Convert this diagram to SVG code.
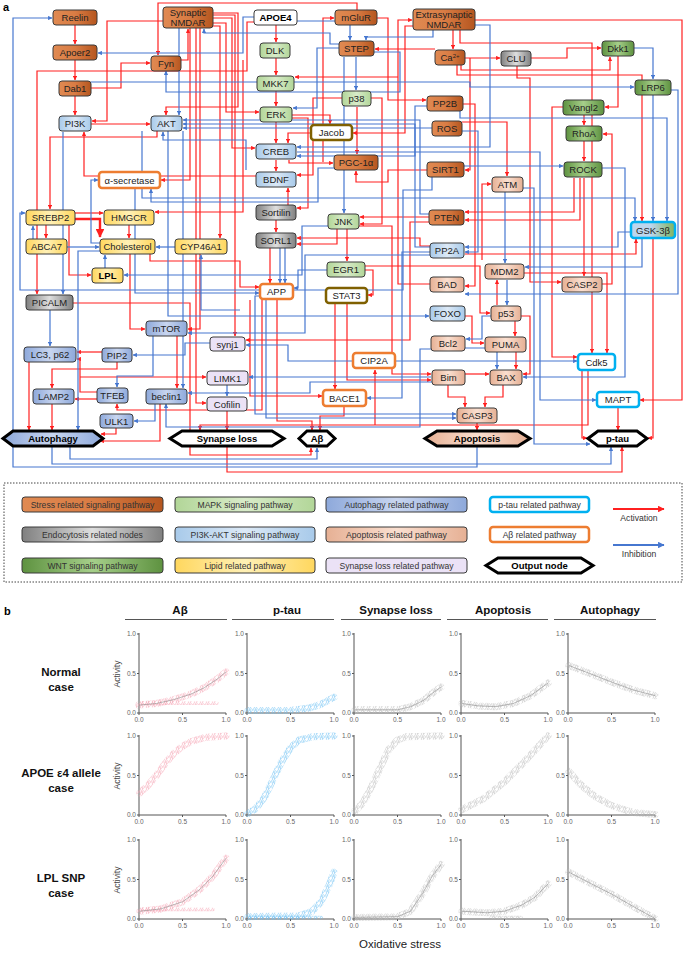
<svg xmlns="http://www.w3.org/2000/svg" width="685" height="953" viewBox="0 0 685 953">
<defs>
<style>
.r{fill:none;stroke:#ff2020;stroke-width:1.2;marker-end:url(#ar)}
.rt{fill:none;stroke:#ff2020;stroke-width:2.4;marker-end:url(#ar)}
.b{fill:none;stroke:#4677d0;stroke-width:1.2;marker-end:url(#ab)}
.nd{stroke:#3a3a3a;stroke-width:1}
.sS{fill:url(#gS)}.sM{fill:url(#gM)}.sW{fill:url(#gW)}.sA{fill:url(#gA)}.sP{fill:url(#gP)}.sE{fill:url(#gE)}.sL{fill:url(#gL)}.sAp{fill:url(#gAp)}.sSy{fill:#ebe2f6}
.pt{fill:#fff;stroke:#00b0f0;stroke-width:2.5}
.ab{fill:#fff;stroke:#ed7d31;stroke-width:2.5}
.ol{fill:#fff;stroke:#7f6000;stroke-width:2.5}
.hx{stroke:#000;stroke-width:3;stroke-linejoin:miter}
.t{font-family:"Liberation Sans",Arial,sans-serif;font-size:9.5px;text-anchor:middle;fill:#222}
.tb{font-family:"Liberation Sans",Arial,sans-serif;font-size:9.5px;text-anchor:middle;fill:#000;font-weight:bold}
.lg{font-family:"Liberation Sans",Arial,sans-serif;font-size:8.6px;text-anchor:middle;fill:#333}
.hd{font-family:"Liberation Sans",Arial,sans-serif;font-size:11.5px;text-anchor:middle;font-weight:bold;fill:#111}
.tk{font-family:"Liberation Sans",Arial,sans-serif;font-size:6.5px;fill:#666}
.ax{fill:none;stroke:#555;stroke-width:1}
.sp{fill:none;stroke-width:7;stroke-linecap:round;stroke-linejoin:round}
.sf{fill:none;stroke-width:3.5;stroke-linecap:round}
.fit{fill:none;stroke:#8c8c8c;stroke-width:0.6}
</style>
<marker id="ar" viewBox="0 0 6 6" refX="5.5" refY="3" markerWidth="3.6" markerHeight="3.6" orient="auto"><path d="M0,0 L6,3 L0,6 z" fill="#ff2020"/></marker>
<marker id="ab" viewBox="0 0 6 6" refX="5.5" refY="3" markerWidth="3.6" markerHeight="3.6" orient="auto"><path d="M0,0 L6,3 L0,6 z" fill="#4677d0"/></marker>
<linearGradient id="gS"><stop offset="0" stop-color="#e08a52"/><stop offset="0.5" stop-color="#d97c44"/><stop offset="1" stop-color="#b5561f"/></linearGradient>
<linearGradient id="gM"><stop offset="0" stop-color="#b2d698"/><stop offset="0.5" stop-color="#d8ebc9"/><stop offset="1" stop-color="#b2d698"/></linearGradient>
<linearGradient id="gW"><stop offset="0" stop-color="#5e9240"/><stop offset="0.5" stop-color="#a6cf8a"/><stop offset="1" stop-color="#5e9240"/></linearGradient>
<linearGradient id="gA"><stop offset="0" stop-color="#8ea9db"/><stop offset="0.5" stop-color="#c8d5ef"/><stop offset="1" stop-color="#8ea9db"/></linearGradient>
<linearGradient id="gP"><stop offset="0" stop-color="#a8caea"/><stop offset="0.5" stop-color="#dce9f6"/><stop offset="1" stop-color="#a8caea"/></linearGradient>
<linearGradient id="gE"><stop offset="0" stop-color="#808080"/><stop offset="0.5" stop-color="#dedede"/><stop offset="1" stop-color="#808080"/></linearGradient>
<linearGradient id="gL"><stop offset="0" stop-color="#ffd75e"/><stop offset="0.5" stop-color="#fff0b5"/><stop offset="1" stop-color="#ffd75e"/></linearGradient>
<linearGradient id="gAp"><stop offset="0" stop-color="#e6b094"/><stop offset="0.5" stop-color="#fadfd0"/><stop offset="1" stop-color="#e6b094"/></linearGradient>
<linearGradient id="gG"><stop offset="0" stop-color="#bcd6ee"/><stop offset="0.45" stop-color="#bcd6ee"/><stop offset="1" stop-color="#7fb35c"/></linearGradient>
<pattern id="pk" width="6" height="5" patternUnits="userSpaceOnUse"><g fill="none" stroke="#f4a0b0" stroke-width="0.5"><circle cx="1.2" cy="1" r="1.3"/><circle cx="4.2" cy="2" r="1.3"/><circle cx="2.5" cy="4" r="1.3"/></g></pattern>
<pattern id="bl" width="6" height="5" patternUnits="userSpaceOnUse"><g fill="none" stroke="#6fc0f2" stroke-width="0.5"><circle cx="1.2" cy="1" r="1.3"/><circle cx="4.2" cy="2" r="1.3"/><circle cx="2.5" cy="4" r="1.3"/></g></pattern>
<pattern id="gy" width="6" height="5" patternUnits="userSpaceOnUse"><g fill="none" stroke="#bcbcbc" stroke-width="0.5"><circle cx="1.2" cy="1" r="1.3"/><circle cx="4.2" cy="2" r="1.3"/><circle cx="2.5" cy="4" r="1.3"/></g></pattern>
<g id="axes">
<path class="ax" d="M0 -80 V0 H87"/>
<path class="ax" d="M0 -79 h-2 M0 -39.5 h-2 M0 0 h-2 M0 0 v2 M43.5 0 v2 M87 0 v2"/>
<text class="tk" x="-3" y="-77" text-anchor="end">1.0</text>
<text class="tk" x="-3" y="-37.5" text-anchor="end">0.5</text>
<text class="tk" x="-3" y="2" text-anchor="end">0.0</text>
<text class="tk" x="0" y="9" text-anchor="middle">0.0</text>
<text class="tk" x="43.5" y="9" text-anchor="middle">0.5</text>
<text class="tk" x="87" y="9" text-anchor="middle">1.0</text>
</g>
</defs>
<rect width="685" height="953" fill="#fff"/>
<text x="3" y="11" font-family="Liberation Sans, Arial, sans-serif" font-size="11" font-weight="bold">a</text>

<g id="connectors">
<path class="r" d="M75 25 V44"/>
<path class="r" d="M75 60 V80"/>
<path class="r" d="M75 96 V115"/>
<path class="r" d="M163 21 H107 V121 H92"/>
<path class="r" d="M91 88 H121 V63 H150"/>
<path class="r" d="M91 124 H150"/>
<path class="r" d="M357 10 V3 H158 V55"/>
<path class="r" d="M181 60 H188 V29"/>
<path class="r" d="M276 25 V42"/>
<path class="r" d="M276 58 V75"/>
<path class="r" d="M276 91 V106"/>
<path class="r" d="M276 122 V143"/>
<path class="r" d="M292 115 H330 V124"/>
<path class="r" d="M311 133 H288 V143"/>
<path class="r" d="M413 26 H405 V133 H353"/>
<path class="r" d="M435 49 H375"/>
<path class="r" d="M453 30 V49"/>
<path class="r" d="M377 18 H388 V100 H426"/>
<path class="r" d="M323 162 V18 H334"/>
<path class="r" d="M475 20 H682 V400 H640"/>
<path class="r" d="M213 18 H232 V148 H255"/>
<path class="r" d="M213 23 H226 V112 H259"/>
<path class="r" d="M213 13 H238 V107 H166 V115"/>
<path class="r" d="M213 15 H235 V336"/>
<path class="r" d="M200 28 V329 H188"/>
<path class="r" d="M190 28 V180 H161"/>
<path class="r" d="M196 28 V403 H206"/>
<path class="r" d="M357 107 V154"/>
<path class="r" d="M371 98 H382 V224 H360"/>
<path class="r" d="M359 226 H392 V374 H431"/>
<path class="r" d="M430 284 H398 V20 H412"/>
<path class="r" d="M398 77 H295"/>
<path class="r" d="M157 131 V137 H50 V209"/>
<path class="r" d="M46 225 V238"/>
<path class="r" d="M75 213 H103"/>
<path class="rt" d="M75 219 H100 V237"/>
<path class="r" d="M69 225 V275 H91"/>
<path class="r" d="M129 225 V238"/>
<path class="r" d="M243 60 V212 H155"/>
<path class="r" d="M213 26 H220 V238"/>
<path class="r" d="M150 254 V261 H240 V287 H259"/>
<path class="r" d="M130 254 V329 H145"/>
<path class="r" d="M276 160 V171"/>
<path class="r" d="M289 160 V163 H333"/>
<path class="r" d="M427 170 H388 V182 H356 V171"/>
<path class="r" d="M342 98 H313 V175 H297"/>
<path class="r" d="M288 205 V188"/>
<path class="r" d="M292 118 H308 V208 H297"/>
<path class="r" d="M276 220 V232"/>
<path class="r" d="M429 217 H360"/>
<path class="r" d="M347 229 V261"/>
<path class="r" d="M337 229 V244 H297"/>
<path class="r" d="M430 246 H420 V238 H297"/>
<path class="r" d="M270 248 V283"/>
<path class="r" d="M277 299 V421 H312 V430"/>
<path class="r" d="M344 407 V416 H320 V430"/>
<path class="r" d="M335 303 V389"/>
<path class="r" d="M347 303 V380 H431"/>
<path class="r" d="M365 270 H373 V295 H368"/>
<path class="r" d="M365 266 H480 V313 H490"/>
<path class="r" d="M375 425 V370"/>
<path class="r" d="M429 222 H410 V340 H246"/>
<path class="r" d="M227 411 V430"/>
<path class="r" d="M97 392 H80 V359 H77"/>
<path class="r" d="M80 377 H206"/>
<path class="r" d="M250 300 V396 H322"/>
<path class="r" d="M588 371 V425 H200 V430"/>
<path class="r" d="M582 371 V438 H587"/>
<path class="r" d="M618 408 V430"/>
<path class="r" d="M653 239 V438 H648"/>
<path class="r" d="M460 30 V43 H592 V353"/>
<path class="r" d="M524 273 H607 V353"/>
<path class="r" d="M563 107 H552 V357 H577"/>
<path class="r" d="M482 260 V184 H491"/>
<path class="r" d="M462 122 H507 V176"/>
<path class="r" d="M574 178 V212 H465"/>
<path class="r" d="M580 178 V220 H465"/>
<path class="r" d="M584 178 V276"/>
<path class="r" d="M584 141 V161"/>
<path class="r" d="M584 115 V125"/>
<path class="r" d="M618 56 V107 H605"/>
<path class="r" d="M531 58 H567 V48 H601"/>
<path class="r" d="M465 58 H500"/>
<path class="r" d="M461 65 V70 H610 V57"/>
<path class="r" d="M457 65 V75 H642 V221"/>
<path class="r" d="M517 66 V78 H530 V282 H561"/>
<path class="r" d="M465 254 H636 V239"/>
<path class="r" d="M602 284 H612 V134 H603"/>
<path class="r" d="M497 305 V280"/>
<path class="r" d="M521 316 H530 V374 H523"/>
<path class="r" d="M515 321 V336"/>
<path class="r" d="M465 316 H472 V343 H484"/>
<path class="r" d="M516 352 V369"/>
<path class="r" d="M465 374 H489"/>
<path class="r" d="M503 385 V397 H485 V407"/>
<path class="r" d="M448 385 V397 H465 V407"/>
<path class="r" d="M477 423 V430"/>
<path class="r" d="M463 104 H475 V286 H465"/>
<path class="r" d="M470 58 V170 H465"/>
<path class="r" d="M102 352 H77"/>
<path class="r" d="M97 399 H75"/>
<path class="r" d="M117 362 V369 H52 V388"/>
<path class="r" d="M29 362 V430"/>
<path class="r" d="M52 404 V430"/>
<path class="r" d="M73 303 H190 V455 H311 V448"/>
<path class="r" d="M177 336 V388"/>
<path class="r" d="M160 404 V441 H100"/>
<path class="r" d="M116 428 V434 H101"/>
<path class="r" d="M262 299 V410 H117 V404"/>
<path class="r" d="M254 22 H247 V71 H37 V294"/>
<path class="r" d="M256 176 H84 V132"/>
<path class="r" d="M227 446 V472 H622 V447"/>

<path class="b" d="M477 447 V467 H13 V18 H52"/>
<path class="b" d="M254 17 H243 V53 H98"/>
<path class="b" d="M91 82 H470 V87 H634"/>
<path class="b" d="M339 44 H330 V33 H204 V29"/>
<path class="b" d="M297 21 H350 V40"/>
<path class="b" d="M339 48 H317 V108 H293"/>
<path class="b" d="M356 57 V90"/>
<path class="b" d="M344 57 V213"/>
<path class="b" d="M433 30 V37 H366 V40"/>
<path class="b" d="M429 214 H420 V120 H183"/>
<path class="b" d="M430 247 H415 V124 H183"/>
<path class="b" d="M432 128 H183"/>
<path class="b" d="M142 131 V198 H635 V221"/>
<path class="b" d="M168 131 V316 H429"/>
<path class="b" d="M246 170 V140 H163 V132"/>
<path class="b" d="M179 28 V115"/>
<path class="b" d="M183 131 V388"/>
<path class="b" d="M63 132 V294"/>
<path class="b" d="M432 177 V190 H403 V290 H20 V213 H25"/>
<path class="b" d="M33 239 V226"/>
<path class="b" d="M67 247 H99"/>
<path class="b" d="M175 247 H156"/>
<path class="b" d="M105 268 V255"/>
<path class="b" d="M328 226 H302 V275 H124"/>
<path class="b" d="M100 243 H91 V180 H98"/>
<path class="b" d="M334 168 H318 V202 H151 V189"/>
<path class="b" d="M135 188 V293 H259"/>
<path class="b" d="M100 251 H78 V430"/>
<path class="b" d="M240 310 H201 V255"/>
<path class="b" d="M280 248 V283"/>
<path class="b" d="M285 248 V283"/>
<path class="b" d="M327 270 H298 V288 H294"/>
<path class="b" d="M430 252 H402 V398 H367"/>
<path class="b" d="M353 361 H288 V345 H246"/>
<path class="b" d="M431 377 H249"/>
<path class="b" d="M227 385 V396"/>
<path class="b" d="M396 361 H577"/>
<path class="b" d="M260 296 H255 V414 H456"/>
<path class="b" d="M266 299 V418 H456"/>
<path class="b" d="M297 152 H540 V400 H596"/>
<path class="b" d="M523 188 H534 V444 H590"/>
<path class="b" d="M505 192 V263"/>
<path class="b" d="M464 166 H563"/>
<path class="b" d="M602 168 H625 V377 H523"/>
<path class="b" d="M634 48 H653 V79"/>
<path class="b" d="M653 95 V221"/>
<path class="b" d="M460 110 V118 H667 V221"/>
<path class="b" d="M671 90 H678 V294 H465"/>
<path class="b" d="M631 232 H618 V247 H465"/>
<path class="b" d="M642 238 V267 H525"/>
<path class="b" d="M507 280 V305"/>
<path class="b" d="M491 316 H482 V339 H466"/>
<path class="b" d="M465 348 H497 V369"/>
<path class="b" d="M431 349 H420 V427 H166 V404"/>
<path class="b" d="M462 131 H478 V252 H465"/>
<path class="b" d="M474 25 H490 V147 H297"/>
<path class="b" d="M427 106 H415 V156 H297"/>
<path class="b" d="M430 255 H305 V333 H188"/>
<path class="b" d="M432 382 H310 V393 H188"/>
<path class="b" d="M153 336 V376 H117 V387"/>
<path class="b" d="M155 403 V421 H134"/>
<path class="b" d="M210 343 H185 V355 H133"/>
<path class="b" d="M50 310 V346"/>
<path class="b" d="M70 446 V459 H317 V448"/>
<path class="b" d="M52 446 V464 H611 V447"/>
<path class="b" d="M374 52 H400 V92 H166 V71"/>
</g>

<g id="nodes">
<g id="n-reelin"><rect class="nd sS" x="53" y="10" width="44" height="15" rx="3"/><text class="t" x="75" y="21">Reelin</text></g>
<g id="n-apoer2"><rect class="nd sS" x="53" y="45" width="44" height="15" rx="3"/><text class="t" x="75" y="56">Apoer2</text></g>
<g id="n-dab1"><rect class="nd sS" x="59" y="81" width="32" height="15" rx="3"/><text class="t" x="75" y="92">Dab1</text></g>
<g id="n-snmdar"><rect class="nd sS" x="163" y="7" width="50" height="21" rx="3"/><text class="t" x="188" y="16">Synaptic</text><text class="t" x="188" y="25.5">NMDAR</text></g>
<g id="n-fyn"><rect class="nd sS" x="151" y="56" width="30" height="15" rx="3"/><text class="t" x="166" y="67">Fyn</text></g>
<g id="n-mglur"><rect class="nd sS" x="335" y="10" width="42" height="15" rx="3"/><text class="t" x="356" y="21">mGluR</text></g>
<g id="n-step"><rect class="nd sS" x="339" y="41" width="35" height="15" rx="3"/><text class="t" x="356.5" y="52">STEP</text></g>
<g id="n-enmdar"><rect class="nd sS" x="413" y="9" width="62" height="21" rx="3"/><text class="t" x="444" y="18">Extrasynaptic</text><text class="t" x="444" y="27.5">NMDAR</text></g>
<g id="n-ca"><rect class="nd sS" x="435" y="50" width="30" height="15" rx="3"/><text class="t" x="450" y="61">Ca<tspan font-size="6" dy="-3.5">2+</tspan></text></g>
<g id="n-pp2b"><rect class="nd sS" x="427" y="96" width="36" height="15" rx="3"/><text class="t" x="445" y="107">PP2B</text></g>
<g id="n-ros"><rect class="nd sS" x="432" y="121" width="30" height="15" rx="3"/><text class="t" x="447" y="132">ROS</text></g>
<g id="n-pgc"><rect class="nd sS" x="334" y="155" width="44" height="15" rx="3"/><text class="t" x="356" y="166">PGC-1α</text></g>
<g id="n-sirt1"><rect class="nd sS" x="427" y="162" width="37" height="15" rx="3"/><text class="t" x="445.5" y="173">SIRT1</text></g>
<g id="n-pten"><rect class="nd sS" x="429" y="210" width="35" height="15" rx="3"/><text class="t" x="446.5" y="221">PTEN</text></g>

<g id="n-dlk"><rect class="nd sM" x="260" y="43" width="30" height="15" rx="3"/><text class="t" x="275" y="54">DLK</text></g>
<g id="n-mkk7"><rect class="nd sM" x="257" y="76" width="37" height="15" rx="3"/><text class="t" x="275.5" y="87">MKK7</text></g>
<g id="n-erk"><rect class="nd sM" x="260" y="107" width="32" height="15" rx="3"/><text class="t" x="276" y="118">ERK</text></g>
<g id="n-p38"><rect class="nd sM" x="342" y="91" width="29" height="15" rx="3"/><text class="t" x="356.5" y="102">p38</text></g>
<g id="n-jnk"><rect class="nd sM" x="328" y="214" width="31" height="15" rx="3"/><text class="t" x="343.5" y="225">JNK</text></g>
<g id="n-egr1"><rect class="nd sM" x="327" y="262" width="38" height="15" rx="3"/><text class="t" x="346" y="273">EGR1</text></g>

<g id="n-dkk1"><rect class="nd sW" x="602" y="41" width="32" height="15" rx="3"/><text class="t" x="618" y="52">Dkk1</text></g>
<g id="n-lrp6"><rect class="nd sW" x="635" y="80" width="36" height="15" rx="3"/><text class="t" x="653" y="91">LRP6</text></g>
<g id="n-vangl2"><rect class="nd sW" x="563" y="100" width="41" height="15" rx="3"/><text class="t" x="583.5" y="111">Vangl2</text></g>
<g id="n-rhoa"><rect class="nd sW" x="566" y="126" width="36" height="15" rx="3"/><text class="t" x="584" y="137">RhoA</text></g>
<g id="n-rock"><rect class="nd sW" x="564" y="162" width="38" height="15" rx="3"/><text class="t" x="583" y="173">ROCK</text></g>

<g id="n-pi3k"><rect class="nd sP" x="59" y="116" width="32" height="15" rx="3"/><text class="t" x="75" y="127">PI3K</text></g>
<g id="n-akt"><rect class="nd sP" x="151" y="116" width="31" height="15" rx="3"/><text class="t" x="166.5" y="127">AKT</text></g>
<g id="n-creb"><rect class="nd sP" x="256" y="144" width="40" height="15" rx="3"/><text class="t" x="276" y="155">CREB</text></g>
<g id="n-bdnf"><rect class="nd sP" x="256" y="172" width="40" height="15" rx="3"/><text class="t" x="276" y="183">BDNF</text></g>
<g id="n-pp2a"><rect class="nd sP" x="430" y="243" width="34" height="15" rx="3"/><text class="t" x="447" y="254">PP2A</text></g>
<g id="n-foxo"><rect class="nd sP" x="430" y="306" width="35" height="15" rx="3"/><text class="t" x="447.5" y="317">FOXO</text></g>

<g id="n-mtor"><rect class="nd sA" x="146" y="321" width="41" height="15" rx="3"/><text class="t" x="166.5" y="332">mTOR</text></g>
<g id="n-lc3"><rect class="nd sA" x="24" y="347" width="52" height="15" rx="3"/><text class="t" x="50" y="358">LC3, p62</text></g>
<g id="n-pip2"><rect class="nd sA" x="102" y="348" width="30" height="14" rx="3"/><text class="t" x="117" y="358.5">PIP2</text></g>
<g id="n-lamp2"><rect class="nd sA" x="33" y="389" width="41" height="15" rx="3"/><text class="t" x="53.5" y="400">LAMP2</text></g>
<g id="n-tfeb"><rect class="nd sA" x="97" y="388" width="31" height="15" rx="3"/><text class="t" x="112.5" y="399">TFEB</text></g>
<g id="n-beclin1"><rect class="nd sA" x="146" y="389" width="41" height="15" rx="3"/><text class="t" x="166.5" y="400">beclin1</text></g>
<g id="n-ulk1"><rect class="nd sA" x="100" y="414" width="33" height="14" rx="3"/><text class="t" x="116.5" y="424.5">ULK1</text></g>

<g id="n-clu"><rect class="nd sE" x="501" y="51" width="30" height="15" rx="3"/><text class="t" x="516" y="62">CLU</text></g>
<g id="n-sortilin"><rect class="nd sE" x="256" y="205" width="40" height="15" rx="3"/><text class="t" x="276" y="216">Sortilin</text></g>
<g id="n-sorl1"><rect class="nd sE" x="256" y="233" width="40" height="15" rx="3"/><text class="t" x="276" y="244">SORL1</text></g>
<g id="n-picalm"><rect class="nd sE" x="26" y="295" width="47" height="15" rx="3"/><text class="t" x="49.5" y="306">PICALM</text></g>

<g id="n-srebp2"><rect class="nd sL" x="26" y="210" width="49" height="15" rx="3"/><text class="t" x="50.5" y="221">SREBP2</text></g>
<g id="n-hmgcr"><rect class="nd sL" x="104" y="210" width="50" height="15" rx="3"/><text class="t" x="129" y="221">HMGCR</text></g>
<g id="n-abca7"><rect class="nd sL" x="26" y="239" width="41" height="15" rx="3"/><text class="t" x="46.5" y="250">ABCA7</text></g>
<g id="n-chol"><rect class="nd sL" x="100" y="239" width="55" height="15" rx="3"/><text class="t" x="127.5" y="250">Cholesterol</text></g>
<g id="n-cyp"><rect class="nd sL" x="175" y="239" width="52" height="15" rx="3"/><text class="t" x="201" y="250">CYP46A1</text></g>
<g id="n-lpl"><rect class="nd sL" x="92" y="268" width="31" height="15" rx="3"/><text class="tb" x="107.5" y="279">LPL</text></g>

<g id="n-atm"><rect class="nd sAp" x="492" y="177" width="31" height="15" rx="3"/><text class="t" x="507.5" y="188">ATM</text></g>
<g id="n-mdm2"><rect class="nd sAp" x="485" y="264" width="39" height="15" rx="3"/><text class="t" x="504.5" y="275">MDM2</text></g>
<g id="n-casp2"><rect class="nd sAp" x="562" y="277" width="40" height="15" rx="3"/><text class="t" x="582" y="288">CASP2</text></g>
<g id="n-bad"><rect class="nd sAp" x="430" y="277" width="34" height="15" rx="3"/><text class="t" x="447" y="288">BAD</text></g>
<g id="n-p53"><rect class="nd sAp" x="491" y="306" width="30" height="15" rx="3"/><text class="t" x="506" y="317">p53</text></g>
<g id="n-bcl2"><rect class="nd sAp" x="431" y="336" width="34" height="15" rx="3"/><text class="t" x="448" y="347">Bcl2</text></g>
<g id="n-puma"><rect class="nd sAp" x="485" y="337" width="41" height="15" rx="3"/><text class="t" x="505.5" y="348">PUMA</text></g>
<g id="n-bim"><rect class="nd sAp" x="432" y="370" width="33" height="15" rx="3"/><text class="t" x="448.5" y="381">Bim</text></g>
<g id="n-bax"><rect class="nd sAp" x="490" y="370" width="32" height="15" rx="3"/><text class="t" x="506" y="381">BAX</text></g>
<g id="n-casp3"><rect class="nd sAp" x="457" y="408" width="40" height="15" rx="3"/><text class="t" x="477" y="419">CASP3</text></g>

<g id="n-synj1"><rect class="nd sSy" x="210" y="337" width="35" height="14" rx="3"/><text class="t" x="227.5" y="347.5">synj1</text></g>
<g id="n-limk1"><rect class="nd sSy" x="207" y="371" width="41" height="14" rx="3"/><text class="t" x="227.5" y="381.5">LIMK1</text></g>
<g id="n-cofilin"><rect class="nd sSy" x="207" y="397" width="40" height="14" rx="3"/><text class="t" x="227" y="407.5">Cofilin</text></g>

<g id="n-gsk"><rect x="631" y="222" width="44" height="16" rx="3" fill="url(#gG)" stroke="#00b0f0" stroke-width="2.5"/><text class="t" x="653" y="233.5">GSK-3β</text></g>
<g id="n-cdk5"><rect class="pt" x="578" y="354" width="37" height="16" rx="3"/><text class="t" x="596.5" y="365.5">Cdk5</text></g>
<g id="n-mapt"><rect class="pt" x="597" y="392" width="42" height="15" rx="3"/><text class="t" x="618" y="403">MAPT</text></g>

<g id="n-asec"><rect class="ab" x="99" y="172" width="61" height="16" rx="3"/><text class="t" x="129.5" y="183.5">α-secretase</text></g>
<g id="n-app"><rect class="ab" x="260" y="284" width="33" height="15" rx="3"/><text class="t" x="276.5" y="295">APP</text></g>
<g id="n-cip2a"><rect class="ab" x="353" y="353" width="42" height="15" rx="3"/><text class="t" x="374" y="364">CIP2A</text></g>
<g id="n-bace1"><rect class="ab" x="323" y="390" width="43" height="16" rx="3"/><text class="t" x="344.5" y="401.5">BACE1</text></g>

<g id="n-jacob"><rect class="ol" x="311" y="125" width="41" height="15" rx="3"/><text class="t" x="331.5" y="136">Jacob</text></g>
<g id="n-stat3"><rect class="ol" x="326" y="288" width="41" height="15" rx="3"/><text class="t" x="346.5" y="299">STAT3</text></g>
<g id="n-apoe4"><rect class="nd" x="254" y="10" width="43" height="15" rx="3" fill="#fff"/><text class="tb" x="275.5" y="21">APOE4</text></g>

<g id="o-autophagy"><polygon class="hx" fill="url(#gA)" points="3,438.5 13,431 93,431 103,438.5 93,446 13,446"/><text class="tb" x="53" y="442">Autophagy</text></g>
<g id="o-synapse"><polygon class="hx" fill="#fff" points="170,438.5 182,431 272,431 284,438.5 272,446 182,446"/><text class="tb" x="227" y="442">Synapse loss</text></g>
<g id="o-abeta"><polygon class="hx" fill="#fff" points="299,438.5 307,431 327,431 335,438.5 327,446 307,446"/><text class="tb" x="317" y="442">Aβ</text></g>
<g id="o-apoptosis"><polygon class="hx" fill="url(#gAp)" points="425,438.5 437,431 518,431 530,438.5 518,446 437,446"/><text class="tb" x="477" y="442">Apoptosis</text></g>
<g id="o-ptau"><polygon class="hx" fill="#fff" points="588,438.5 598,431 637,431 647,438.5 637,446 598,446"/><text class="tb" x="617.5" y="442">p-tau</text></g>
</g>

<g id="legend">
<rect x="4" y="483" width="678" height="99" fill="none" stroke="#444" stroke-width="1" stroke-dasharray="1.5 1.5"/>
<rect class="nd sS" x="22" y="497" width="141" height="15" rx="3"/><text class="lg" x="92.5" y="507.5">Stress related signaling pathway</text>
<rect class="nd sM" x="175" y="497" width="140" height="15" rx="3"/><text class="lg" x="245" y="507.5">MAPK signaling pathway</text>
<rect class="nd sA" x="326" y="497" width="141" height="15" rx="3"/><text class="lg" x="396.5" y="507.5">Autophagy related pathway</text>
<rect class="pt" x="490" y="497" width="99" height="15" rx="3"/><text class="lg" x="539.5" y="507.5">p-tau related pathway</text>
<rect class="nd sE" x="22" y="527" width="141" height="15" rx="3"/><text class="lg" x="92.5" y="537.5">Endocytosis related nodes</text>
<rect class="nd sP" x="175" y="527" width="140" height="15" rx="3"/><text class="lg" x="245" y="537.5">PI3K-AKT signaling pathway</text>
<rect class="nd sAp" x="326" y="527" width="141" height="15" rx="3"/><text class="lg" x="396.5" y="537.5">Apoptosis related pathway</text>
<rect class="ab" x="490" y="527" width="99" height="15" rx="3"/><text class="lg" x="539.5" y="537.5">Aβ related pathway</text>
<rect class="nd sW" x="22" y="558" width="141" height="15" rx="3"/><text class="lg" x="92.5" y="568.5">WNT signaling pathway</text>
<rect class="nd sL" x="175" y="558" width="140" height="15" rx="3"/><text class="lg" x="245" y="568.5">Lipid related pathway</text>
<rect class="nd sSy" x="326" y="558" width="141" height="15" rx="3"/><text class="lg" x="396.5" y="568.5">Synapse loss related pathway</text>
<polygon class="hx" fill="#fff" points="486,565.5 498,558 581,558 593,565.5 581,573 498,573"/><text class="tb" x="539.5" y="569" font-size="8.6">Output node</text>
<path d="M613 509 H664" fill="none" stroke="#ff2020" stroke-width="1.8" marker-end="url(#ar)"/>
<text class="lg" x="639" y="521">Activation</text>
<path d="M613 545 H664" fill="none" stroke="#4677d0" stroke-width="1.8" marker-end="url(#ab)"/>
<text class="lg" x="639" y="557">Inhibition</text>
</g>

<g id="panel-b">
<text x="4" y="615" font-family="Liberation Sans, Arial, sans-serif" font-size="11" font-weight="bold">b</text>
<text class="hd" x="180" y="614">Aβ</text>
<text class="hd" x="287" y="614">p-tau</text>
<text class="hd" x="396" y="614">Synapse loss</text>
<text class="hd" x="503" y="614">Apoptosis</text>
<text class="hd" x="610" y="614">Autophagy</text>
<path d="M125 619.5 H227 M232 619.5 H334 M341 619.5 H441 M447 619.5 H548 M554 619.5 H656" stroke="#555" stroke-width="1.2" fill="none"/>
<text class="hd" x="61" y="676">Normal</text><text class="hd" x="61" y="691">case</text>
<text class="hd" x="61" y="777">APOE ε4 allele</text><text class="hd" x="61" y="792">case</text>
<text class="hd" x="61" y="882">LPL SNP</text><text class="hd" x="61" y="897">case</text>
<text transform="translate(120,674) rotate(-90)" font-family="Liberation Sans, Arial, sans-serif" font-size="8.5" text-anchor="middle" fill="#444">Activity</text>
<text transform="translate(120,776) rotate(-90)" font-family="Liberation Sans, Arial, sans-serif" font-size="8.5" text-anchor="middle" fill="#444">Activity</text>
<text transform="translate(120,880) rotate(-90)" font-family="Liberation Sans, Arial, sans-serif" font-size="8.5" text-anchor="middle" fill="#444">Activity</text>
<text x="400" y="948" font-family="Liberation Sans, Arial, sans-serif" font-size="11.5" text-anchor="middle" fill="#222">Oxidative stress</text>

<g transform="translate(139,713)"><use href="#axes"/><path class="sf" stroke="url(#pk)" d="M3 -9.8 L78 -9.8"/><path class="sp" stroke="url(#pk)" d="M0 -7.9 L17.4 -9.5 L34.8 -13.4 L52.2 -19 L65.3 -25.3 L78.3 -34 L87 -41.1"/><path class="fit" d="M0 -7.9 L17.4 -9.5 L34.8 -13.4 L52.2 -19 L65.3 -25.3 L78.3 -34 L87 -41.1"/></g>
<g transform="translate(247,713)"><use href="#axes"/><path class="sp" stroke="url(#bl)" d="M1 -2.4 L43.5 -2.6 L60.9 -4.7 L74 -8.7 L87 -15.8"/></g>
<g transform="translate(354,713)"><use href="#axes"/><path class="sp" stroke="url(#gy)" d="M1 -3.2 L43.5 -3.2 L56.6 -6.3 L69.6 -12.6 L78.3 -19.8 L87 -26"/><path class="fit" d="M1 -3.2 L43.5 -3.2 L56.6 -6.3 L69.6 -12.6 L78.3 -19.8 L87 -26"/></g>
<g transform="translate(461,713)"><use href="#axes"/><path class="sp" stroke="url(#gy)" d="M1 -9.5 L17.4 -7.1 L34.8 -6.3 L52.2 -9.5 L69.6 -17.4 L87 -30"/><path class="fit" d="M1 -9.5 L17.4 -7.1 L34.8 -6.3 L52.2 -9.5 L69.6 -17.4 L87 -30"/></g>
<g transform="translate(568,713)"><use href="#axes"/><path class="sp" stroke="url(#gy)" stroke-width="9" d="M1 -47.4 L21.75 -39.5 L43.5 -31 L65.25 -23 L87 -17.4"/><path class="fit" d="M1 -47.4 L21.75 -39.5 L43.5 -31 L65.25 -23 L87 -17.4"/></g>

<g transform="translate(139,815)"><use href="#axes"/><path class="sp" stroke="url(#pk)" d="M1 -22.1 L8.7 -29.2 L17.4 -39.5 L26.1 -51.4 L34.8 -61.6 L43.5 -68.7 L52.2 -73.5 L65.3 -77.4 L87 -79"/></g>
<g transform="translate(247,815)"><use href="#axes"/><path class="sp" stroke="url(#bl)" d="M1 -1.6 L8.7 -6.3 L17.4 -17.4 L26.1 -35.6 L34.8 -53.7 L43.5 -67.2 L52.2 -75 L65.3 -78.2 L87 -79"/></g>
<g transform="translate(354,815)"><use href="#axes"/><path class="sp" stroke="url(#gy)" d="M1 -4 L8.7 -11.9 L17.4 -27.7 L26.1 -47.4 L34.8 -65.6 L43.5 -75 L52.2 -78.2 L87 -79"/></g>
<g transform="translate(461,815)"><use href="#axes"/><path class="sp" stroke="url(#gy)" d="M1 -5.5 L21.75 -15.8 L43.5 -33.2 L65.25 -55.3 L87 -79"/></g>
<g transform="translate(568,815)"><use href="#axes"/><path class="sp" stroke="url(#gy)" d="M1 -43.5 L13 -30 L26.1 -19 L43.5 -9.5 L65.25 -2.4 L87 -0.5"/></g>

<g transform="translate(139,919)"><use href="#axes"/><path class="sf" stroke="url(#pk)" d="M3 -9.6 L74 -9.6"/><path class="sp" stroke="url(#pk)" d="M1 -7.8 L21.75 -10.1 L43.5 -17.2 L60.9 -29.6 L74 -42.9 L87 -60.8"/><path class="fit" d="M1 -7.8 L21.75 -10.1 L43.5 -17.2 L60.9 -29.6 L74 -42.9 L87 -60.8"/></g>
<g transform="translate(247,919)"><use href="#axes"/><path class="sf" stroke="url(#bl)" d="M3 -1.5 L74 -1.5"/><path class="sp" stroke="url(#bl)" d="M1 -2.3 L52.2 -3.1 L65.25 -7.8 L74 -17.2 L82.6 -35.1 L87 -46.8"/></g>
<g transform="translate(354,919)"><use href="#axes"/><path class="sp" stroke="url(#gy)" d="M1 -1.6 L43.5 -2.3 L56.6 -7.8 L69.6 -27.3 L78.3 -42.9 L87 -54.6"/><path class="fit" d="M1 -1.6 L43.5 -2.3 L56.6 -7.8 L69.6 -27.3 L78.3 -42.9 L87 -54.6"/></g>
<g transform="translate(461,919)"><use href="#axes"/><path class="sf" stroke="url(#gy)" d="M30 -1.5 L60 -1.5"/><path class="sp" stroke="url(#gy)" d="M1 -7.8 L26.1 -6.2 L43.5 -7.8 L60.9 -14 L74 -21.8 L87 -35.1"/><path class="fit" d="M1 -7.8 L26.1 -6.2 L43.5 -7.8 L60.9 -14 L74 -21.8 L87 -35.1"/></g>
<g transform="translate(568,919)"><use href="#axes"/><path class="sp" stroke="url(#gy)" d="M1 -46.8 L21.75 -36 L43.5 -25 L65.25 -12.5 L87 -0.5"/><path class="fit" d="M1 -46.8 L21.75 -36 L43.5 -25 L65.25 -12.5 L87 -0.5"/></g>
</g>
</svg>
